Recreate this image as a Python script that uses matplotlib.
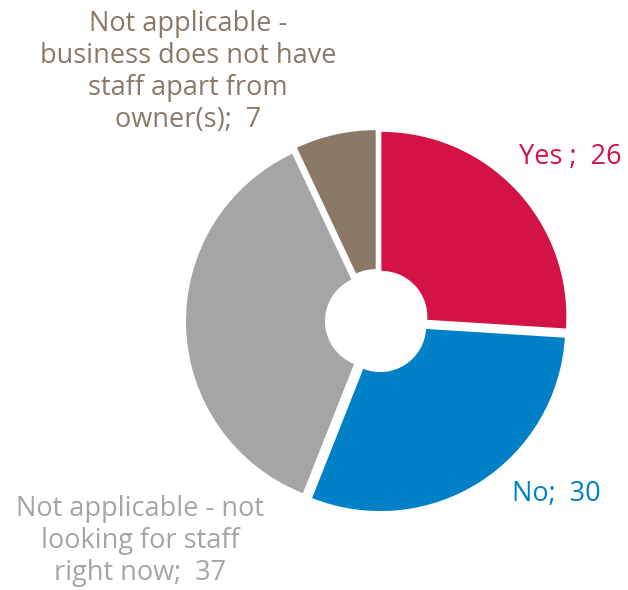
import matplotlib
matplotlib.use("Agg")
import matplotlib.pyplot as plt

plt.rcParams['font.family'] = ['Open Sans', 'DejaVu Sans']

categories = ["Yes", "No", "Not applicable - not looking for staff right now",
              "Not applicable - business does not have staff apart from owner(s)"]
values = [26, 30, 37, 7]
colors = ["#D31245", "#0080C6", "#A5A5A5", "#8B7866"]

W, H = 628, 590
fig = plt.figure(figsize=(W / 100, H / 100), dpi=100)
ax = fig.add_axes([0, 0, 1, 1])

cx, cy, R = 377, H - 321, 185
hole = 46
# explode offsets are in data units (pixels here)
ax.pie(values, colors=colors, startangle=90, counterclock=False,
       center=(cx, cy), radius=R, explode=[6] * len(values),
       wedgeprops=dict(width=R - hole, linewidth=0), frame=True)
ax.set_xlim(0, W)
ax.set_ylim(0, H)
ax.set_aspect('equal')
ax.axis('off')

fs = 19.5
label_specs = [
    (f"Yes ;  {values[0]}", 570, 157),
    (f"No;  {values[1]}", 556, 494),
    (f"Not applicable - not\nlooking for staff\nright now;  {values[2]}", 140, 541),
    (f"Not applicable -\nbusiness does not have\nstaff apart from\nowner(s);  {values[3]}", 188, 72),
]
for (txt, x, y), c in zip(label_specs, colors):
    ax.text(x, H - y, txt, color=c, fontsize=fs, ha='center', va='center',
            linespacing=1.2)

fig.savefig("out.png", dpi=100)
